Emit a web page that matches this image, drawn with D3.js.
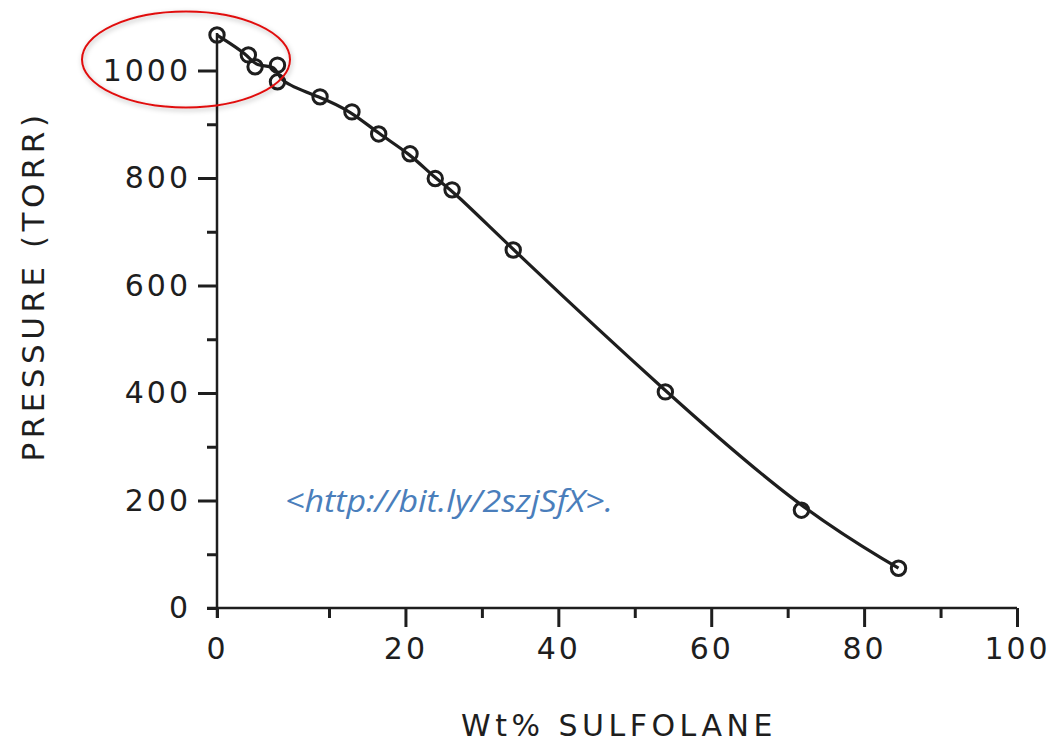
<!DOCTYPE html>
<html>
<head>
<meta charset="utf-8">
<script src="https://cdn.jsdelivr.net/npm/d3@7.9.0/dist/d3.min.js"></script>
<style>
  body { margin: 0; background: #fff; }
  svg { display: block; }
</style>
</head>
<body>
<svg id="chart" width="1056" height="743"></svg>
<script>
// measured points (wt% sulfolane vs pressure)
const wtPct = [0, 2.8, 3.4, 5.4, 5.4, 9.2, 13.0, 16.5, 20.6, 23.9, 26.1, 34.1, 54.0, 71.8, 84.5];
const pressure = [1066, 1029, 1007, 1010, 979, 951, 923, 882, 845, 799, 778, 666, 402, 182, 74];

const xMajor = [20, 40, 60, 80, 100];
const xMinor = [0, 10, 30, 50, 70, 90];
const yMajor = [200, 400, 600, 800, 1000];
const yMinor = [0, 100, 300, 500, 700, 900];

const xTitle = "Wt% SULFOLANE";
const yTitle = "PRESSURE  (TORR)";
const note = "<http://bit.ly/2szjSfX>.";

const svg = d3.select("#chart");
const ink = "#1e1e1e";
const fontFam = "'DejaVu Sans', sans-serif";

// the original axis is stretched between 0 and 10
const x = d3.scaleLinear().domain([0, 10, 100]).range([217, 329, 1017]);
const y = d3.scaleLinear().domain([0, 1000]).range([608, 70.5]);

// axis lines
svg.append("line")
  .attr("x1", x(0)).attr("x2", x(0))
  .attr("y1", y(0) + 10).attr("y2", y(1070))
  .attr("stroke", ink).attr("stroke-width", 2.5);
svg.append("line")
  .attr("x1", x(0) - 10).attr("x2", x(100))
  .attr("y1", y(0)).attr("y2", y(0))
  .attr("stroke", ink).attr("stroke-width", 2.5);

// y axis ticks
svg.append("g").attr("transform", `translate(${x(0)},0)`)
  .call(d3.axisLeft(y).tickValues(yMajor).tickSize(19).tickSizeOuter(0).tickPadding(7).tickFormat(d3.format("d")));
svg.append("g").attr("transform", `translate(${x(0)},0)`)
  .call(d3.axisLeft(y).tickValues(yMinor).tickSize(10).tickSizeOuter(0).tickPadding(16)
    .tickFormat(d => d === 0 ? "0" : ""));

// x axis ticks
svg.append("g").attr("transform", `translate(0,${y(0)})`)
  .call(d3.axisBottom(x).tickValues(xMajor).tickSize(19).tickSizeOuter(0).tickPadding(11).tickFormat(d3.format("d")));
svg.append("g").attr("transform", `translate(0,${y(0)})`)
  .call(d3.axisBottom(x).tickValues(xMinor).tickSize(10).tickSizeOuter(0).tickPadding(20)
    .tickFormat(d => d === 0 ? "0" : ""));

svg.selectAll(".domain").remove();
svg.selectAll(".tick line").attr("stroke", ink).attr("stroke-width", 3);
svg.selectAll(".tick text")
  .attr("font-family", fontFam).attr("font-size", 30)
  .attr("letter-spacing", 3).attr("fill", ink);

// curve through the points
const pts = wtPct.map((d, i) => [d, pressure[i]]);
const line = d3.line().x(d => x(d[0])).y(d => y(d[1])).curve(d3.curveBasis);
svg.append("path")
  .attr("d", line(pts))
  .attr("fill", "none").attr("stroke", ink).attr("stroke-width", 3.2);

svg.append("g").selectAll("circle")
  .data(pts).join("circle")
  .attr("cx", d => x(d[0])).attr("cy", d => y(d[1]))
  .attr("r", 7.2)
  .attr("fill", "none").attr("stroke", ink).attr("stroke-width", 3);

// axis titles
svg.append("text")
  .attr("x", 619).attr("y", 736)
  .attr("text-anchor", "middle")
  .attr("font-family", fontFam).attr("font-size", 30)
  .attr("letter-spacing", 4.5).attr("fill", ink)
  .text(xTitle);

svg.append("text")
  .attr("transform", "translate(44,286) rotate(-90)")
  .attr("text-anchor", "middle")
  .attr("font-family", fontFam).attr("font-size", 31)
  .attr("letter-spacing", 4.5).attr("fill", ink)
  .text(yTitle);

// link note
svg.append("text")
  .attr("x", 285).attr("y", 512)
  .attr("font-family", "'Open Sans', sans-serif").attr("font-style", "italic")
  .attr("font-size", 31)
  .attr("textLength", 328).attr("lengthAdjust", "spacingAndGlyphs")
  .attr("fill", "#4a7ebb")
  .text(note);

// red highlight ellipse with soft shadow
const defs = svg.append("defs");
const f = defs.append("filter").attr("id", "shadow")
  .attr("x", "-20%").attr("y", "-30%").attr("width", "140%").attr("height", "160%");
f.append("feDropShadow").attr("dx", 1).attr("dy", 2).attr("stdDeviation", 2.5)
  .attr("flood-color", "#000").attr("flood-opacity", 0.3);

svg.append("ellipse")
  .attr("cx", 186).attr("cy", 59.5).attr("rx", 104).attr("ry", 48)
  .attr("fill", "none").attr("stroke", "#e01010").attr("stroke-width", 2)
  .attr("filter", "url(#shadow)");
</script>
</body>
</html>
